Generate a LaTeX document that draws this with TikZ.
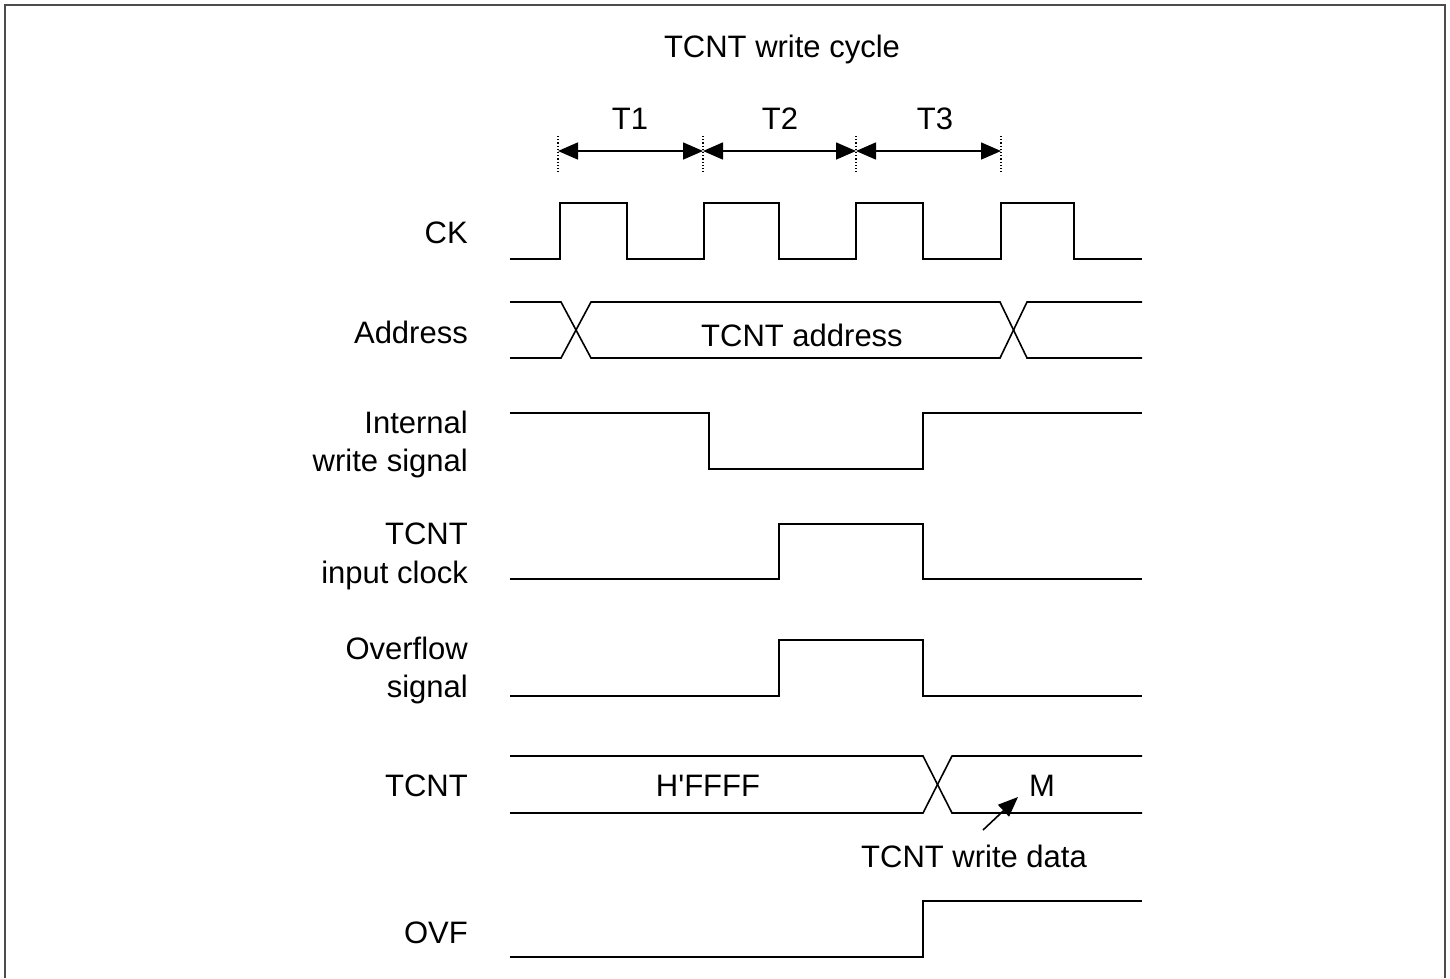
\documentclass[tikz,border=0pt]{standalone}
\usepackage{fontspec}
\setmainfont{Liberation Sans}[Ligatures=TeXOff]
\usetikzlibrary{arrows.meta}
\begin{document}
\begin{tikzpicture}[x=1pt,y=-1pt,
  sig/.style={line width=1.6pt, line join=miter},
  lbl/.style={font=\fontsize{31}{36}\selectfont, inner sep=0pt, anchor=base east},
  txt/.style={font=\fontsize{31}{36}\selectfont, inner sep=0pt, anchor=base},
  dimarrow/.style={line width=1.6pt, {Triangle[length=20pt,width=17pt]}-{Triangle[length=20pt,width=17pt]}},
  ptrarrow/.style={line width=1.6pt, -{Triangle[length=20pt,width=16pt]}},
  guide/.style={line width=1.2pt, dotted},
  frameline/.style={line width=2pt, black!70}
]
\useasboundingbox (0,0) rectangle (1450,978);
\draw[frameline] (5,978) -- (5,5) -- (1445,5) -- (1445,978);

% title and period labels
\node[txt] (title) at (782,57) {TCNT write cycle};
\node[txt] (t1) at (630,129) {T1};
\node[txt] (t2) at (780,129) {T2};
\node[txt] (t3) at (935,129) {T3};

% dotted guides and dimension arrows
\foreach \x/\n in {558/a,703/b,856/c,1001/d}{
  \coordinate (\n t) at (\x,136);
  \coordinate (\n b) at (\x,172);
  \coordinate (\n m) at (\x,151);
  \draw[guide] (\n t) -- (\n b);
}
\draw[dimarrow] (am) -- (bm);
\draw[dimarrow] (bm) -- (cm);
\draw[dimarrow] (cm) -- (dm);

% signal labels
\node[lbl] (lck) at (468,243) {CK};
\node[lbl] (laddr) at (468,343) {Address};
\node[lbl] (lint1) at (468,433) {Internal};
\node[lbl] (lint2) at (468,471) {write signal};
\node[lbl] (lin1) at (468,544) {TCNT};
\node[lbl] (lin2) at (468,583) {input clock};
\node[lbl] (lov1) at (468,659) {Overflow};
\node[lbl] (lov2) at (468,697) {signal};
\node[lbl] (ltcnt) at (468,796) {TCNT};
\node[lbl] (lovf) at (468,943) {OVF};

% CK
\draw[sig] (510,259) -- (560,259) -- (560,203) -- (627,203) -- (627,259) -- (704,259) -- (704,203)
  -- (779,203) -- (779,259) -- (856,259) -- (856,203) -- (923,203) -- (923,259) -- (1001,259)
  -- (1001,203) -- (1074,203) -- (1074,259) -- (1142,259);

% Address bus
\draw[sig] (510,302) -- (561,302) -- (591,358) -- (1000,358) -- (1027,302) -- (1142,302);
\draw[sig] (510,358) -- (561,358) -- (591,302) -- (1000,302) -- (1027,358) -- (1142,358);
\node[txt] (addr) at (802,346) {TCNT address};

% Internal write signal
\draw[sig] (510,413) -- (709,413) -- (709,469) -- (923,469) -- (923,413) -- (1142,413);

% TCNT input clock
\draw[sig] (510,579) -- (779,579) -- (779,524) -- (923,524) -- (923,579) -- (1142,579);

% Overflow signal
\draw[sig] (510,696) -- (779,696) -- (779,640) -- (923,640) -- (923,696) -- (1142,696);

% TCNT bus
\draw[sig] (510,756) -- (923,756) -- (952,813) -- (1142,813);
\draw[sig] (510,813) -- (923,813) -- (952,756) -- (1142,756);
\node[txt] (ffff) at (708,796) {H'FFFF};
\node[txt] (mval) at (1042,796) {M};

% write data pointer
\node[txt] (wd) at (974,867) {TCNT write data};
\coordinate (wdtail) at (983,830);
\coordinate (wdtip) at (1018,797);
\draw[ptrarrow] (wdtail) -- (wdtip);

% OVF
\draw[sig] (510,957) -- (923,957) -- (923,901) -- (1142,901);
\end{tikzpicture}
\end{document}
